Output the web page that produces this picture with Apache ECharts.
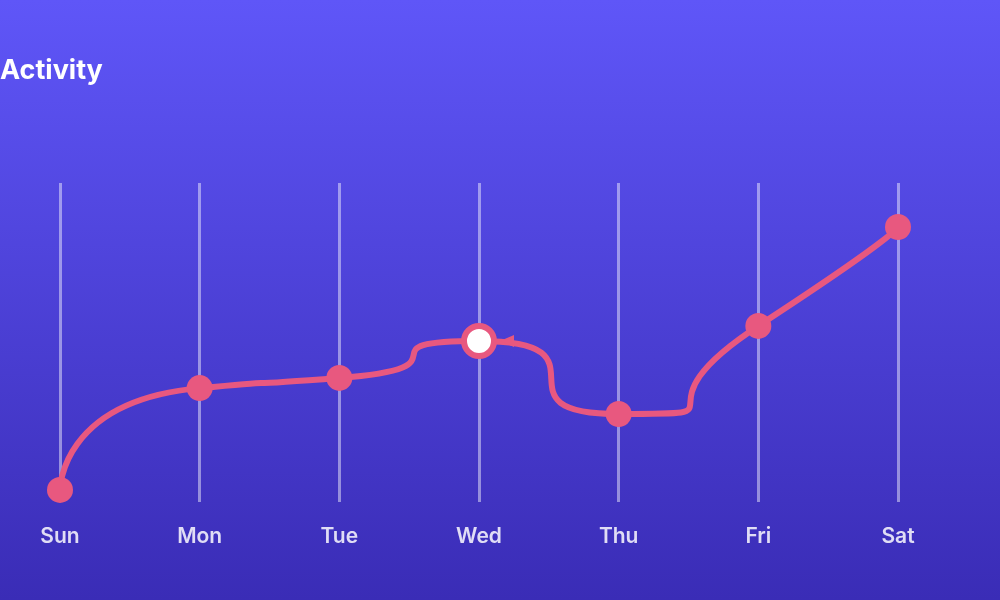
<!DOCTYPE html>
<html>
<head>
  <meta charset="utf-8" />
  <script src="https://cdn.jsdelivr.net/npm/echarts@6/dist/echarts.min.js"></script>
  <style>body{margin:0}</style>
</head>
<body>
  <div id="main" style="width:1000px;height:600px;"></div>
  <script type="text/javascript">
    // Inline data
    let days = ['Sun', 'Mon', 'Tue', 'Wed', 'Thu', 'Fri', 'Sat'];
    let activity = [3.8, 35.7, 38.9, 50.5, 27.6, 55.2, 86.2];
    let highlightIndex = 3;

    var chart = echarts.init(document.getElementById('main'));

    var seriesData = activity.map(function (v, i) {
      if (i === highlightIndex) {
        return { value: v, symbolSize: 30, itemStyle: { color: '#ffffff', borderColor: '#e8587f', borderWidth: 6 } };
      }
      return v;
    });

    var option = {
      backgroundColor: new echarts.graphic.LinearGradient(0, 0, 0, 1, [
        { offset: 0, color: '#5f56f8' },
        { offset: 1, color: '#3a2cb6' }
      ]),
      title: {
        text: 'Activity',
        left: -5,
        top: 52,
        textStyle: { color: '#ffffff', fontSize: 27, fontWeight: 'bold', fontFamily: 'Inter' }
      },
      grid: { left: 60, right: 102, top: 183, bottom: 98 },
      xAxis: {
        type: 'category',
        boundaryGap: false,
        data: days,
        axisLine: { show: false },
        axisTick: { show: false },
        axisLabel: { color: '#e0ddf5', fontSize: 21, fontWeight: 600, margin: 24, fontFamily: 'Inter' },
        splitLine: { show: true, lineStyle: { color: 'rgba(255,255,255,0.45)', width: 3 } }
      },
      yAxis: {
        type: 'value',
        min: 0,
        max: 100,
        show: false
      },
      series: [
        {
          type: 'line',
          data: seriesData,
          smooth: 1,
          symbol: 'circle',
          symbolSize: 26,
          lineStyle: { color: '#e8587f', width: 6 },
          itemStyle: { color: '#e8587f' },
          markPoint: {
            symbol: 'triangle',
            symbolSize: [12, 14],
            symbolRotate: 90,
            symbolOffset: [28, 0],
            label: { show: false },
            itemStyle: { color: '#e8587f' },
            data: [{ coord: [highlightIndex, activity[highlightIndex]] }]
          }
        }
      ]
    };

    chart.setOption(option);
  </script>
</body>
</html>
